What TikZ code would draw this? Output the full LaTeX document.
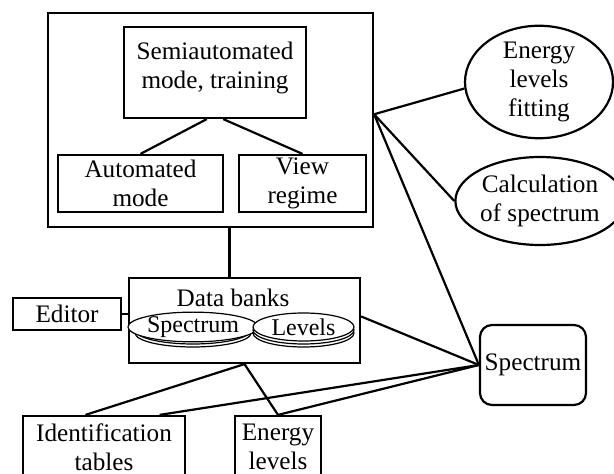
\documentclass[tikz,border=0pt]{standalone}
\usepackage{fontspec}
\setmainfont{Liberation Serif}
\usetikzlibrary{shapes.geometric}
\begin{document}
\begin{tikzpicture}[x=0.5pt, y=-0.5pt, line width=1.1pt,
    font=\fontsize{12.6}{14.4}\selectfont,
    box/.style={draw, align=center, inner sep=1pt},
    oval/.style={draw, ellipse, align=center, inner sep=0pt},
    disk/.style={draw, ellipse, inner sep=0pt, fill=white, line width=0.6pt, font=\fontsize{12}{14}\selectfont}]
         \useasboundingbox (0,0) rectangle (614,474);
         %nodes
         \node[box, minimum width=162.5pt, minimum height=107pt] at (210.5,120) (sys) {};
         \node[box, minimum width=91pt, minimum height=45.5pt] at (215,72.5) (semi) {};
         \node[align=center] at (215,68) (semitext) {Semiautomated\\mode, training};
         \node[box, minimum width=82.5pt, minimum height=28.5pt] at (140.5,183.5) (auto) {Automated\\mode};
         \node[box, minimum width=63.5pt, minimum height=28.5pt] at (302.5,183.5) (view) {View\\regime};
         \node[box, minimum width=115.5pt, minimum height=42.5pt] at (244.5,320.5) (banks) {};
         \node at (233,298) (bankstitle) {Data banks};
         \node[disk, minimum width=58pt, minimum height=14pt] at (193,333) (dspec2) {};
         \node[disk, minimum width=58pt, minimum height=14pt] at (193,330) (dspec1) {};
         \node[disk, minimum width=58pt, minimum height=14pt] at (193,327) (dspec) {Spectrum};
         \node[disk, minimum width=50.5pt, minimum height=14pt] at (303.5,333) (dlev2) {};
         \node[disk, minimum width=50.5pt, minimum height=14pt] at (303.5,330) (dlev1) {};
         \node[disk, minimum width=50.5pt, minimum height=14pt] at (303.5,327) (dlev) {Levels};
         \node[box, minimum width=54pt, minimum height=16pt] at (67,314) (editor) {Editor};
         \node[box, minimum width=81pt, minimum height=31pt] at (104,447) (ident) {Identification\\tables};
         \node[box, minimum width=43pt, minimum height=31pt] at (278,447) (elev) {Energy\\levels};
         \node[box, rounded corners=6pt, minimum width=53pt, minimum height=40pt] at (533,365) (spec) {Spectrum};
         \node[oval, minimum width=74pt, minimum height=56pt] at (539,82) (fit) {Energy\\levels\\fitting};
         \node[oval, minimum width=72pt, minimum height=44pt] at (540,201) (calc) {Calculation\\of spectrum};
         % lines between nodes
         \draw (semi.-100) -- (auto.north); \draw (semi.-80) -- (view.north);
         \draw (sys.-80) -- (sys.-80 |- banks.north);
         \draw (editor.east) -- (editor.east -| banks.west);
         \draw (banks.south) -- (ident.120); \draw (banks.south) -- (elev.north);
         \draw (sys.2) -- (fit.185); \draw (sys.2) -- (calc.west); \draw (sys.2) -- (spec.west);
         \draw (banks.2) -- (spec.west);
         \draw (spec.west) -- (ident.30); \draw (spec.west) -- (elev.north);
        \end{tikzpicture}
\end{document}
